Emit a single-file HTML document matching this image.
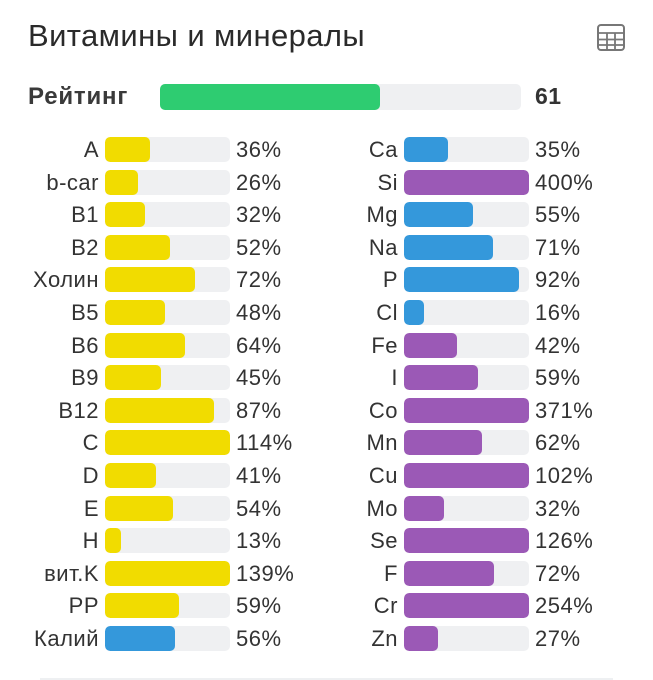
<!DOCTYPE html>
<html><head><meta charset="utf-8"><style>
body{margin:0;width:653px;height:680px;background:#fff;font-family:"Liberation Sans","DejaVu Sans",sans-serif;color:#333;position:relative;overflow:hidden}
.t{position:absolute;left:28px;top:18px;font-size:31px;letter-spacing:0.4px;color:#2a2a2a}
.r{position:absolute;font-size:22px;line-height:25px;white-space:nowrap;letter-spacing:0.5px}
.lab{text-align:right;width:90px}
.tr{position:absolute;height:25px;width:125px;background:#eff0f2;border-radius:5px;overflow:hidden}
.f{height:100%;border-radius:5px}
.y{background:#f1dc00}.b{background:#3498db}.p{background:#9b59b6}
</style></head><body>
<div class="t">Витамины и минералы</div>
<svg style="position:absolute;left:597px;top:24px" width="28" height="27" viewBox="0 0 28 27"><rect x="1" y="1" width="26" height="25" rx="3" fill="none" stroke="#777" stroke-width="2"/><path d="M1 9H27M1 15.5H27M1 21H27M10 9V26M18 9V26" stroke="#777" stroke-width="1.8"/></svg>
<div class="r" style="left:28px;top:84px;font-size:24px;font-weight:bold;color:#3a3a3a;letter-spacing:0.8px">Рейтинг</div>
<div style="position:absolute;left:160px;top:84px;width:361px;height:26px;background:#eff0f2;border-radius:5px"><div style="width:220px;height:26px;background:#2ecc71;border-radius:5px"></div></div>
<div class="r" style="left:535px;top:84px;font-size:23px;font-weight:bold">61</div>
<div id="rows"></div>
<div style="position:absolute;left:40px;top:678px;width:573px;height:2px;background:#eef0f2"></div>
<script>
var L=[["A",36,"y"],["b-car",26,"y"],["B1",32,"y"],["B2",52,"y"],["Холин",72,"y"],["B5",48,"y"],["B6",64,"y"],["B9",45,"y"],["B12",87,"y"],["C",114,"y"],["D",41,"y"],["E",54,"y"],["H",13,"y"],["вит.K",139,"y"],["PP",59,"y"],["Калий",56,"b"]];
var R=[["Ca",35,"b"],["Si",400,"p"],["Mg",55,"b"],["Na",71,"b"],["P",92,"b"],["Cl",16,"b"],["Fe",42,"p"],["I",59,"p"],["Co",371,"p"],["Mn",62,"p"],["Cu",102,"p"],["Mo",32,"p"],["Se",126,"p"],["F",72,"p"],["Cr",254,"p"],["Zn",27,"p"]];
var h="";
function col(a,lx,bx,px){a.forEach(function(d,i){var y=137+i*32.6;var w=Math.min(d[1],100)*1.25;
h+='<div class="r lab" style="left:'+(lx)+'px;top:'+y+'px">'+d[0]+'</div>';
h+='<div class="tr" style="left:'+bx+'px;top:'+y+'px"><div class="f '+d[2]+'" style="width:'+w+'px"></div></div>';
h+='<div class="r" style="left:'+px+'px;top:'+y+'px">'+d[1]+'%</div>';});}
col(L,9,105,236);col(R,308,404,535);
document.getElementById("rows").innerHTML=h;
</script>
</body></html>
